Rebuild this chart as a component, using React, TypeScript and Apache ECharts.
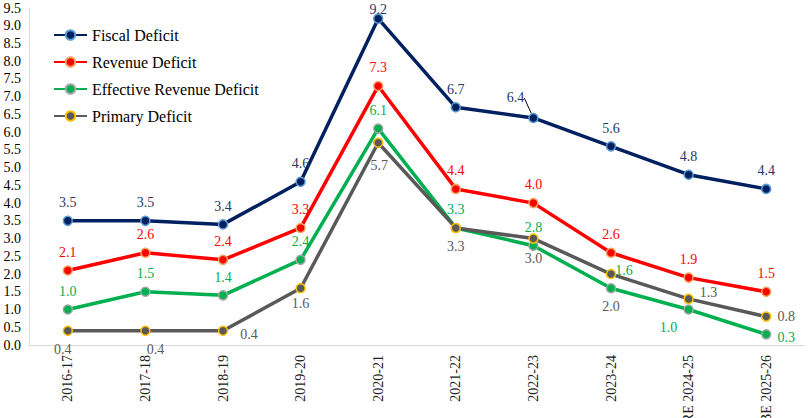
import React, { useEffect, useRef } from "react";
import * as echarts from "echarts";

const categories = ["2016-17", "2017-18", "2018-19", "2019-20", "2020-21", "2021-22", "2022-23", "2023-24", "RE 2024-25", "BE 2025-26"];
const fiscalDeficit = [3.5, 3.5, 3.4, 4.6, 9.2, 6.7, 6.4, 5.6, 4.8, 4.4];
const revenueDeficit = [2.1, 2.6, 2.4, 3.3, 7.3, 4.4, 4.0, 2.6, 1.9, 1.5];
const effectiveRevenueDeficit = [1.0, 1.5, 1.4, 2.4, 6.1, 3.3, 2.8, 1.6, 1.0, 0.3];
const primaryDeficit = [0.4, 0.4, 0.4, 1.6, 5.7, 3.3, 3.0, 2.0, 1.3, 0.8];
const yTicks = { min: 0, max: 9.5, interval: 0.5 };

const FONT = "Liberation Serif";

type LabelOverride = { position?: string; offset?: number[]; distance?: number };

function buildData(values: number[], overrides: Record<number, LabelOverride>, lineIdx?: number) {
  return values.map((v, i) => {
    const o = overrides[i];
    const item: any = { value: v };
    if (o) item.label = { ...o };
    if (lineIdx === i) item.labelLine = { show: true, lineStyle: { color: "#000", width: 1 } };
    return item;
  });
}

export default function App() {
  const ref = useRef<HTMLDivElement>(null);
  useEffect(() => {
    if (!ref.current) return;
    const chart = echarts.init(ref.current, null, { renderer: "svg" });

    const mkSeries = (
      name: string,
      values: number[],
      lineColor: string,
      borderColor: string,
      labelColor: string,
      defaultPos: string,
      overrides: Record<number, LabelOverride>,
      extra: any = {}
    ) => ({
      name,
      type: "line",
      data: buildData(values, overrides, extra.lineIdx),
      symbol: "circle",
      symbolSize: 9,
      lineStyle: { color: lineColor, width: 3.5 },
      itemStyle: { color: lineColor, borderColor, borderWidth: 1.5 },
      label: {
        show: true,
        position: defaultPos,
        distance: 6,
        color: labelColor,
        fontFamily: FONT,
        fontSize: 14,
        formatter: (p: any) => Number(p.value).toFixed(1),
      },
      labelLayout: extra.labelLayout,
      emphasis: { disabled: true },
      z: extra.z ?? 2,
    });

    const option: any = {
      animation: false,
      backgroundColor: "#ffffff",
      textStyle: { fontFamily: FONT },
      grid: { left: 29, right: 4, top: 8, bottom: 73, containLabel: false, outerBoundsMode: "none" },
      legend: {
        orient: "vertical",
        left: 48,
        top: 22,
        padding: 5,
        itemWidth: 33,
        itemHeight: 12,
        itemGap: 11,
        textStyle: { fontFamily: FONT, fontSize: 16, color: "#000" },
        data: ["Fiscal Deficit", "Revenue Deficit", "Effective Revenue Deficit", "Primary Deficit"],
      },
      xAxis: {
        type: "category",
        data: categories,
        boundaryGap: true,
        axisLine: { show: true, lineStyle: { color: "#D9D9D9", width: 1 } },
        axisTick: { show: false },
        axisLabel: { rotate: 90, interval: 0, fontFamily: FONT, fontSize: 14, color: "#222", margin: 10 },
        splitLine: { show: false },
      },
      yAxis: {
        type: "value",
        min: yTicks.min,
        max: yTicks.max,
        interval: yTicks.interval,
        axisLine: { show: true, lineStyle: { color: "#D9D9D9", width: 1 } },
        axisTick: { show: false },
        splitLine: { show: false },
        axisLabel: {
          fontFamily: FONT,
          fontSize: 14,
          color: "#000",
          margin: 8,
          formatter: (v: number) => v.toFixed(1),
        },
      },
      series: [
        mkSeries("Fiscal Deficit", fiscalDeficit, "#002060", "#5B9BD5", "#1F3864", "top",
          {},
          {
            z: 5,
            lineIdx: 6,
            labelLayout: (p: any) =>
              p.dataIndex === 6 ? { dx: -18, dy: -2 } : p.dataIndex === 4 ? { dy: 9 } : {},
          }),
        mkSeries("Revenue Deficit", revenueDeficit, "#FF0000", "#F4A460", "#FF0000", "top", {}, { z: 4 }),
        mkSeries("Effective Revenue Deficit", effectiveRevenueDeficit, "#00B050", "#A5A5A5", "#00B050", "top",
          {
            7: { offset: [13, 1] },
            8: { position: "bottom", offset: [-20, 0] },
            9: { position: "right", offset: [0, 3] },
          }, { z: 3 }),
        mkSeries("Primary Deficit", primaryDeficit, "#595959", "#FFC000", "#595959", "bottom",
          {
            0: { offset: [-5, 0] },
            1: { offset: [10, 0] },
            2: { position: "right", offset: [6, 4] },
            3: { offset: [0, -3] },
            4: { offset: [1, 4] },
            6: { offset: [0, 2] },
            7: { offset: [0, 14] },
            8: { position: "right", offset: [0, -6] },
            9: { position: "right", offset: [0, 0] },
          }, { z: 3 }),
      ],
    };

    chart.setOption(option);
    return () => chart.dispose();
  }, []);

  return (
    <div
      ref={ref}
      style={{ position: "absolute", left: 0, top: 0, width: 809, height: 418, background: "#fff" }}
    />
  );
}
